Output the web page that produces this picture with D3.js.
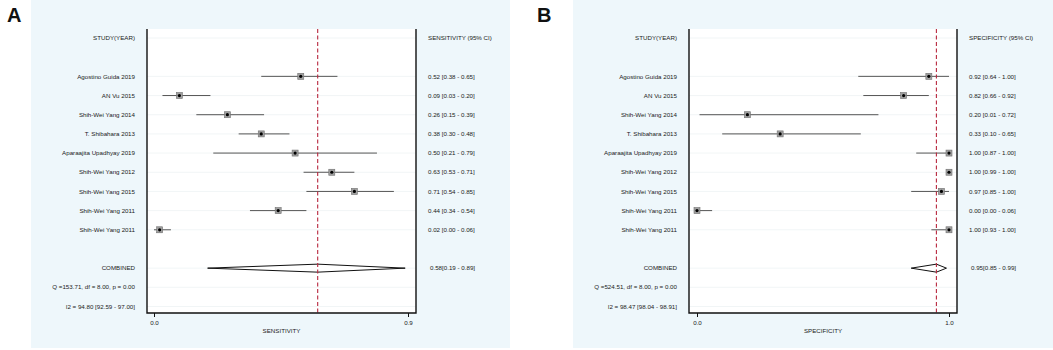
<!DOCTYPE html>
<html>
<head>
<meta charset="utf-8">
<script src="https://cdn.jsdelivr.net/npm/d3@7"></script>
<style>
  html, body { margin: 0; padding: 0; background: #fff; }
  svg { display: block; font-family: "Liberation Sans", Arial, sans-serif; }
</style>
</head>
<body>
<div id="chart"></div>
<script>
const studies = [
    "Agostino Guida 2019", "AN Vu 2015", "Shih-Wei Yang 2014", "T. Shibahara 2013",
    "Aparaajita Upadhyay 2019", "Shih-Wei Yang 2012", "Shih-Wei Yang 2015",
    "Shih-Wei Yang 2011", "Shih-Wei Yang 2011"
];
const sensEst = [0.52, 0.09, 0.26, 0.38, 0.50, 0.63, 0.71, 0.44, 0.02];
const sensLow = [0.38, 0.03, 0.15, 0.30, 0.21, 0.53, 0.54, 0.34, 0.00];
const sensHigh = [0.65, 0.20, 0.39, 0.48, 0.79, 0.71, 0.85, 0.54, 0.06];
const sensCombined = [0.58, 0.19, 0.89];
const sensStats = ["Q =153.71, df = 8.00, p =  0.00", "I2 = 94.80 [92.59 - 97.00]"];
const sensTicks = [0.0, 0.9];

const specEst = [0.92, 0.82, 0.20, 0.33, 1.00, 1.00, 0.97, 0.00, 1.00];
const specLow = [0.64, 0.66, 0.01, 0.10, 0.87, 0.99, 0.85, 0.00, 0.93];
const specHigh = [1.00, 0.92, 0.72, 0.65, 1.00, 1.00, 1.00, 0.06, 1.00];
const specCombined = [0.95, 0.85, 0.99];
const specStats = ["Q =524.51, df = 8.00, p =  0.00", "I2 = 98.47 [98.04 - 98.91]"];
const specTicks = [0.0, 1.0];

const width = 1053, height = 350;
const svg = d3.select("#chart").append("svg")
    .attr("width", width)
    .attr("height", height);

// row index -> y (0 = header, 2..10 studies, 12 combined, 13-14 stats)
const yRow = d3.scaleLinear().domain([0, 14]).range([38, 306.5]);

function fmt(v) { return d3.format(".2f")(v); }

function drawPanel(p) {
    const g = svg.append("g");
    g.append("rect")
        .attr("x", p.bgX0).attr("y", 0)
        .attr("width", p.bgX1 - p.bgX0).attr("height", 348)
        .attr("fill", "#eef7fb");
    g.append("text")
        .attr("x", p.letterX).attr("y", 22)
        .attr("font-size", "20px").attr("font-weight", "bold")
        .attr("fill", "#111")
        .text(p.letter);

    const x = d3.scaleLinear().domain(p.domain).range(p.range);
    const top = 29, bottom = 313;

    g.append("rect")
        .attr("x", p.plotX0).attr("y", top)
        .attr("width", p.plotX1 - p.plotX0).attr("height", bottom - top)
        .attr("fill", "#fff");

    // faint row gridlines
    const gridRows = [0, 2, 3, 4, 5, 6, 7, 8, 9, 10, 12, 13, 14];
    g.append("g").selectAll("line").data(gridRows).join("line")
        .attr("x1", p.plotX0).attr("x2", p.plotX1)
        .attr("y1", d => yRow(d)).attr("y2", d => yRow(d))
        .attr("stroke", "#eef2f4").attr("stroke-width", 0.8);

    // text columns
    const textStyle = sel => sel
        .attr("font-size", "6.2px")
        .attr("fill", "#222")
        .attr("dy", "0.35em");

    g.append("text").attr("x", p.labelX).attr("y", yRow(0))
        .attr("text-anchor", "end").call(textStyle).text("STUDY(YEAR)");
    g.append("text").attr("x", p.valueX).attr("y", yRow(0))
        .call(textStyle).text(p.header);

    const rows = studies.map((s, i) => ({
        name: s, est: p.est[i], lo: p.low[i], hi: p.high[i], row: i + 2
    }));

    g.append("g").selectAll("text").data(rows).join("text")
        .attr("x", p.labelX).attr("y", d => yRow(d.row))
        .attr("text-anchor", "end").call(textStyle)
        .text(d => d.name);

    g.append("g").selectAll("text").data(rows).join("text")
        .attr("x", p.valueX).attr("y", d => yRow(d.row))
        .call(textStyle)
        .text(d => `${fmt(d.est)} [${fmt(d.lo)} - ${fmt(d.hi)}]`);

    g.append("text").attr("x", p.labelX).attr("y", yRow(12))
        .attr("text-anchor", "end").call(textStyle).text("COMBINED");
    g.append("text").attr("x", p.valueX + 2).attr("y", yRow(12))
        .call(textStyle)
        .text(`${fmt(p.combined[0])}[${fmt(p.combined[1])} - ${fmt(p.combined[2])}]`);
    g.append("g").selectAll("text").data(p.stats).join("text")
        .attr("x", p.labelX).attr("y", (d, i) => yRow(13 + i))
        .attr("text-anchor", "end").call(textStyle)
        .text(d => d);

    // CI lines
    g.append("g").selectAll("line").data(rows).join("line")
        .attr("x1", d => x(d.lo)).attr("x2", d => x(d.hi))
        .attr("y1", d => yRow(d.row)).attr("y2", d => yRow(d.row))
        .attr("stroke", "#555").attr("stroke-width", 1);

    // markers
    const mk = g.append("g").selectAll("g").data(rows).join("g")
        .attr("transform", d => `translate(${x(d.est)},${yRow(d.row)})`);
    mk.append("rect")
        .attr("x", -3).attr("y", -3).attr("width", 6).attr("height", 6)
        .attr("fill", "#a0a0a0").attr("stroke", "#707070").attr("stroke-width", 0.6);
    mk.append("circle").attr("r", 1.6).attr("fill", "#000");

    // combined diamond
    const yc = yRow(12), h = 4;
    g.append("path")
        .attr("d", `M${x(p.combined[1])},${yc} L${x(p.combined[0])},${yc - h} L${x(p.combined[2])},${yc} L${x(p.combined[0])},${yc + h} Z`)
        .attr("fill", "#fff").attr("stroke", "#111").attr("stroke-width", 1);

    // reference dashed line
    g.append("line")
        .attr("x1", x(p.combined[0])).attr("x2", x(p.combined[0]))
        .attr("y1", top).attr("y2", bottom)
        .attr("stroke", "#b8283f").attr("stroke-width", 1.1)
        .attr("stroke-dasharray", "4,2.5");

    // frame
    g.append("path")
        .attr("d", `M${p.plotX0},${top} V${bottom} H${p.plotX1} V${top}`)
        .attr("fill", "none").attr("stroke", "#111").attr("stroke-width", 1.4);

    // axis ticks
    g.append("g")
        .attr("transform", `translate(0,${bottom})`)
        .call(d3.axisBottom(x).tickValues(p.ticks).tickFormat(d3.format(".1f")).tickSize(4).tickPadding(4))
        .call(a => a.select(".domain").remove())
        .call(a => a.selectAll(".tick line").attr("stroke", "#111"))
        .call(a => a.selectAll(".tick text")
            .attr("font-size", "6.2px").attr("fill", "#222")
            .attr("font-family", "Liberation Sans, Arial, sans-serif"));

    g.append("text")
        .attr("x", (p.plotX0 + p.plotX1) / 2).attr("y", 331)
        .attr("text-anchor", "middle").call(textStyle)
        .text(p.axisTitle);
}

drawPanel({
    letter: "A", letterX: 7, bgX0: 31, bgX1: 510,
    plotX0: 147, plotX1: 416, domain: [0, 0.9], range: [154, 408],
    labelX: 135, valueX: 428,
    header: "SENSITIVITY (95% CI)", axisTitle: "SENSITIVITY",
    est: sensEst, low: sensLow, high: sensHigh, combined: sensCombined,
    stats: sensStats, ticks: sensTicks
});

drawPanel({
    letter: "B", letterX: 537, bgX0: 573, bgX1: 1053,
    plotX0: 689, plotX1: 957, domain: [0, 1], range: [697, 949],
    labelX: 677, valueX: 969,
    header: "SPECIFICITY (95% CI)", axisTitle: "SPECIFICITY",
    est: specEst, low: specLow, high: specHigh, combined: specCombined,
    stats: specStats, ticks: specTicks
});
</script>
</body>
</html>
